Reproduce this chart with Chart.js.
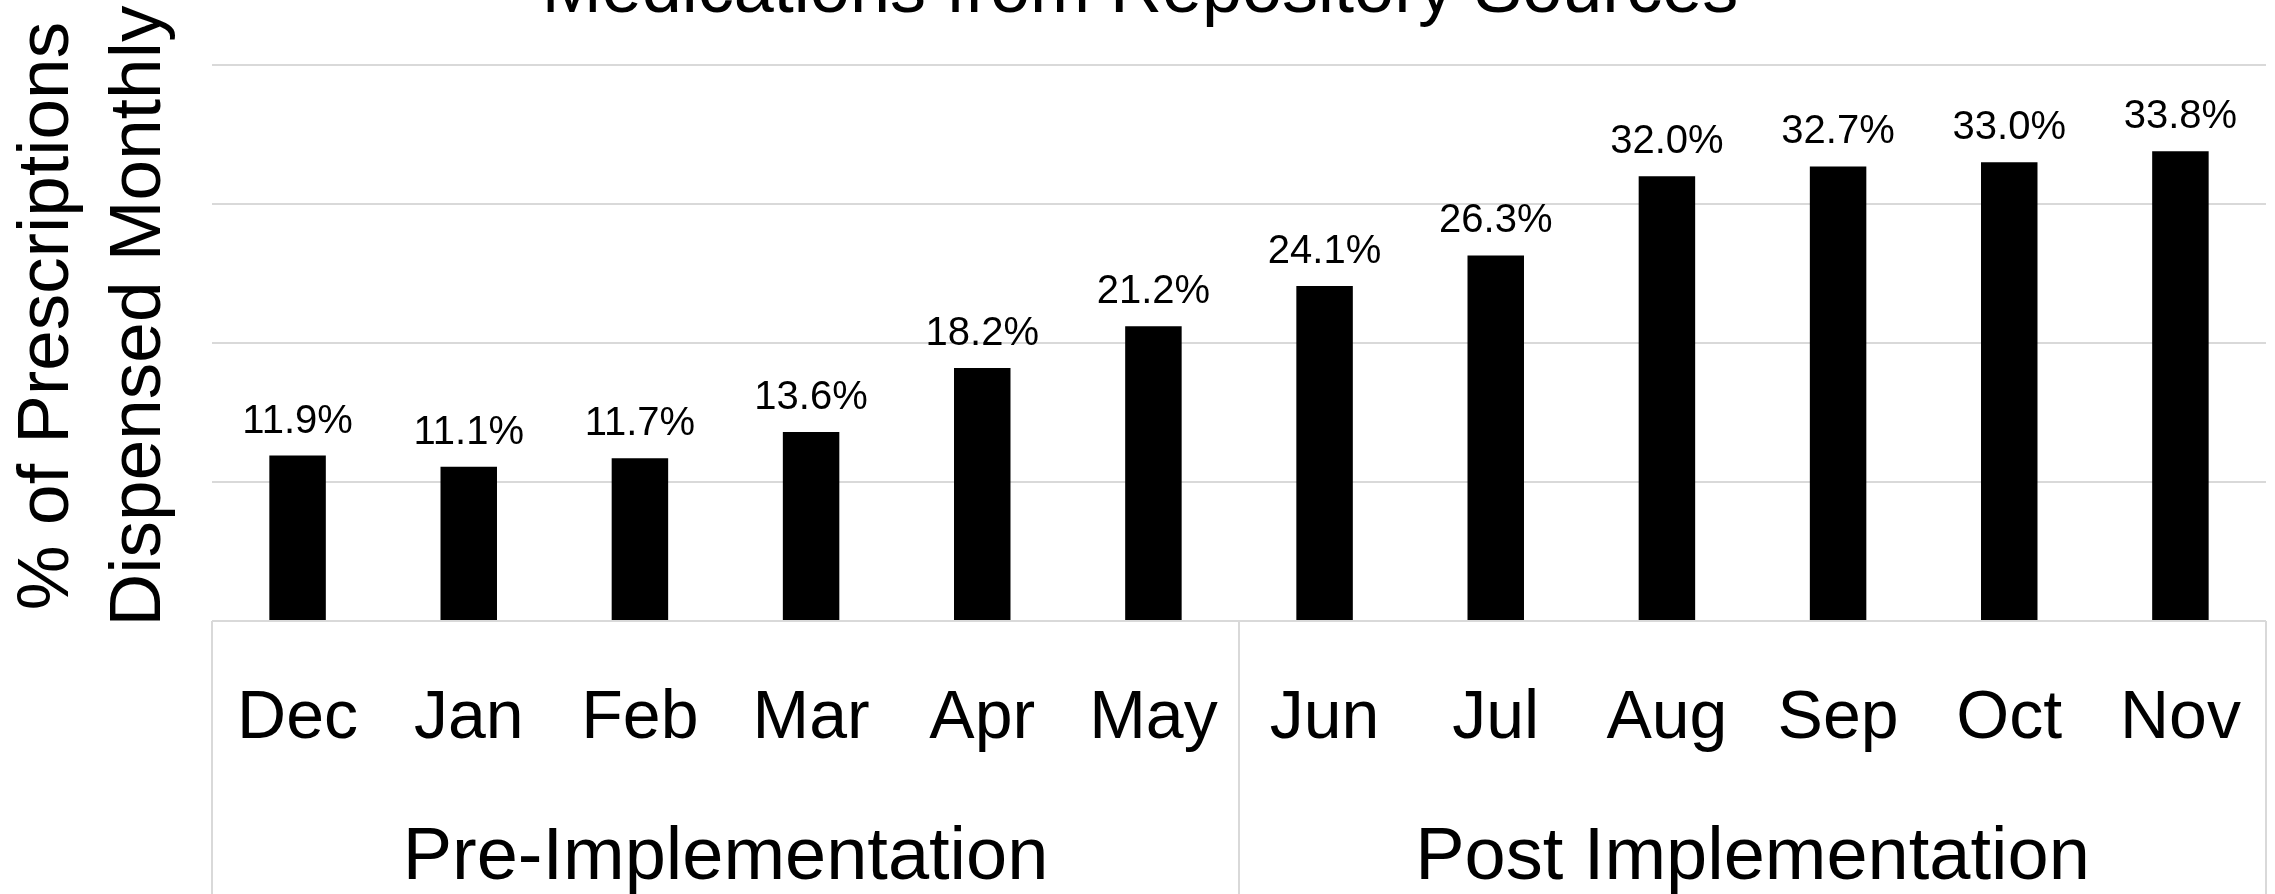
<!DOCTYPE html>
<html>
<head>
<meta charset="utf-8">
<script src="https://cdn.jsdelivr.net/npm/chart.js@4.4.1/dist/chart.umd.min.js"></script>
<style>
html,body{margin:0;padding:0;background:#ffffff;}
#wrap{width:2275px;height:894px;}
</style>
</head>
<body>
<div id="wrap"><canvas id="c" width="2275" height="894"></canvas></div>
<script>
const categories = ['Dec','Jan','Feb','Mar','Apr','May','Jun','Jul','Aug','Sep','Oct','Nov'];
const percentDispensed = [11.9, 11.1, 11.7, 13.6, 18.2, 21.2, 24.1, 26.3, 32.0, 32.7, 33.0, 33.8];
const groupLabels = ['Pre-Implementation', 'Post Implementation'];
const groupSizes = [6, 6];
const yTicks = [0, 10, 20, 30, 40];
const chartTitle = 'Medications from Repository Sources';
const yTitleLines = ['% of Prescriptions', 'Dispensed Monthly'];

const FONT = '"Liberation Sans", Arial, Helvetica, sans-serif';
const GRID = '#d9d9d9';

const decorPlugin = {
  id: 'decor',
  afterDraw(chart) {
    const ctx = chart.ctx;
    const area = chart.chartArea;
    const xs = chart.scales.x;
    const H = chart.height;
    ctx.save();
    // group separators (multi-level category borders)
    const bounds = [area.left];
    let idx = 0;
    groupSizes.forEach(n => {
      idx += n;
      if (idx < categories.length) {
        bounds.push((xs.getPixelForValue(idx - 1) + xs.getPixelForValue(idx)) / 2);
      }
    });
    bounds.push(area.right);
    ctx.strokeStyle = GRID;
    ctx.lineWidth = 2;
    bounds.forEach(b => {
      ctx.beginPath();
      ctx.moveTo(b, area.bottom);
      ctx.lineTo(b, H);
      ctx.stroke();
    });
    // group labels
    ctx.fillStyle = '#000';
    ctx.font = '74px ' + FONT;
    ctx.textAlign = 'center';
    ctx.textBaseline = 'alphabetic';
    groupLabels.forEach((g, i) => {
      ctx.fillText(g, (bounds[i] + bounds[i + 1]) / 2, 879);
    });
    // data labels
    ctx.font = '40px ' + FONT;
    const meta = chart.getDatasetMeta(0);
    meta.data.forEach((el, i) => {
      ctx.fillText(percentDispensed[i].toFixed(1) + '%', el.x, el.y - 23);
    });
    // chart title (clipped at top as in reference)
    ctx.font = '72px ' + FONT;
    ctx.fillText(chartTitle, 1140, 12);
    // y axis title, two lines rotated
    ctx.font = '73px ' + FONT;
    const yc = 316;
    const baselines = [68, 160];
    yTitleLines.forEach((t, i) => {
      ctx.save();
      ctx.translate(baselines[i], yc);
      ctx.rotate(-Math.PI / 2);
      ctx.fillText(t, 0, 0);
      ctx.restore();
    });
    ctx.restore();
  }
};

new Chart(document.getElementById('c'), {
  type: 'bar',
  data: {
    labels: categories,
    datasets: [{
      data: percentDispensed,
      backgroundColor: '#000000',
      borderWidth: 0,
      categoryPercentage: 1.0,
      barPercentage: 0.33
    }]
  },
  options: {
    responsive: false,
    animation: false,
    devicePixelRatio: 1,
    layout: { padding: { left: 212, right: 9, top: 65, bottom: 0 } },
    plugins: {
      legend: { display: false },
      title: { display: false },
      tooltip: { enabled: false }
    },
    scales: {
      x: {
        type: 'category',
        grid: { display: false, drawTicks: false },
        border: { display: false },
        ticks: {
          color: '#000',
          font: { family: FONT, size: 68 },
          padding: 57,
          maxRotation: 0,
          autoSkip: false
        },
        afterFit(s) { s.height = 273; s.paddingLeft = 0; s.paddingRight = 0; }
      },
      y: {
        min: 0,
        max: 40,
        grid: { color: GRID, lineWidth: 2, drawTicks: false },
        border: { display: false },
        ticks: { display: false, stepSize: 10 },
        afterBuildTicks(s) { s.ticks = yTicks.map(v => ({ value: v })); },
        afterFit(s) { s.width = 0; s.paddingTop = 0; s.paddingBottom = 0; }
      }
    }
  },
  plugins: [decorPlugin]
});
</script>
</body>
</html>
